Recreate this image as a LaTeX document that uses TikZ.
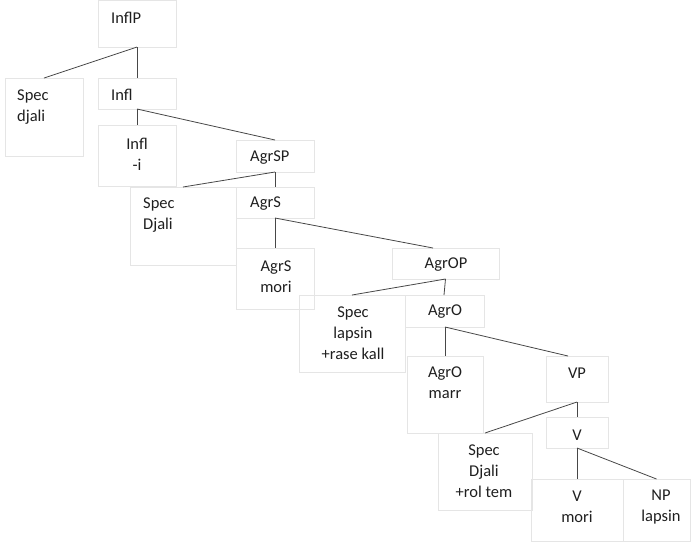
\documentclass[tikz,border=0pt]{standalone}
\usepackage{fontspec}
\setmainfont{Carlito}
\begin{document}
\begin{tikzpicture}[x=1pt,y=-1pt,
  cell/.style={draw=black!10,line width=0.6pt,inner sep=0pt,outer sep=0pt,anchor=north west},
  lab/.style={inner sep=0pt,text=black!88,font=\fontsize{16.5}{21}\selectfont},
  edge/.style={draw=black!72,line width=0.8pt}]
\useasboundingbox (0,0) rectangle (691,542);
% boxes
\node[cell,minimum width=78pt,minimum height=47pt] (inflp) at (98,0) {};
\node[cell,minimum width=78pt,minimum height=78pt] (specd) at (5,78) {};
\node[cell,minimum width=78pt,minimum height=31pt] (infl) at (98,78) {};
\node[cell,minimum width=78pt,minimum height=61pt] (infli) at (98,125) {};
\node[cell,minimum width=78pt,minimum height=32pt] (agrsp) at (236,140) {};
\node[cell,minimum width=106pt,minimum height=78pt] (specD) at (130,187) {};
\node[cell,minimum width=78pt,minimum height=31pt] (agrs) at (236,187) {};
\node[cell,minimum width=78pt,minimum height=61pt] (agrsm) at (236,248) {};
\node[cell,minimum width=107pt,minimum height=31pt] (agrop) at (392,248) {};
\node[cell,minimum width=106pt,minimum height=77pt] (specl) at (299,295) {};
\node[cell,minimum width=79pt,minimum height=32pt] (agro) at (405,295) {};
\node[cell,minimum width=76pt,minimum height=77pt] (agrom) at (407,356) {};
\node[cell,minimum width=62pt,minimum height=46pt] (vp) at (546,356) {};
\node[cell,minimum width=62pt,minimum height=31pt] (v) at (546,417) {};
\node[cell,minimum width=94pt,minimum height=77pt] (specr) at (438,433) {};
\node[cell,minimum width=92pt,minimum height=62pt] (vm) at (531,479) {};
\node[cell,minimum width=67pt,minimum height=62pt] (np) at (623,479) {};
% labels
\node[lab,anchor=west] (t-inflp) at (111,18) {InflP};
\node[lab,anchor=west,align=left] (t-specd) at (17,107) {Spec\\djali};
\node[lab,anchor=west] (t-infl) at (111,95) {Infl};
\node[lab,align=center] (t-infli) at (137,154) {Infl\\-i};
\node[lab,anchor=west] (t-agrsp) at (250,158) {AgrSP};
\node[lab,anchor=west,align=left] (t-specD) at (143,215) {Spec\\Djali};
\node[lab,anchor=west] (t-agrs) at (250,204) {AgrS};
\node[lab,align=center] (t-agrsm) at (276,276.5) {AgrS\\mori};
\node[lab] (t-agrop) at (446,265) {AgrOP};
\node[lab,align=center] (t-specl) at (353,333) {Spec\\lapsin\\+rase kall};
\node[lab] (t-agro) at (445,312) {AgrO};
\node[lab,align=center] (t-agrom) at (445,383) {AgrO\\marr};
\node[lab] (t-vp) at (577,373) {VP};
\node[lab] (t-v) at (577,435) {V};
\node[lab,align=center] (t-specr) at (484,471) {Spec\\Djali\\+rol tem};
\node[lab,align=center] (t-vm) at (577,507) {V\\mori};
\node[lab,align=center] (t-np) at (661,507) {NP\\lapsin};
% connectors
\draw[edge] (inflp.south) -- (specd.north);
\draw[edge] (inflp.south) -- (infl.north);
\draw[edge] (infl.south) -- (infli.north);
\draw[edge] (infl.south) -- (agrsp.north);
\draw[edge] (agrsp.south) -- (specD.north);
\draw[edge] (agrsp.south) -- (agrs.north);
\draw[edge] (agrs.south) -- (agrsm.north);
\draw[edge] (agrs.south) -- ([xshift=-12.5pt]agrop.north);
\draw[edge] (agrop.south) -- (specl.north);
\draw[edge] (agrop.south) -- ([xshift=-0.5pt]agro.north);
\draw[edge] ([xshift=0.5pt]agro.south) -- (agrom.north);
\draw[edge] ([xshift=0.5pt]agro.south) -- ([xshift=-9pt]vp.north);
\draw[edge] (vp.south) -- (specr.north);
\draw[edge] (vp.south) -- (v.north);
\draw[edge] (v.south) -- (vm.north);
\draw[edge] (v.south) -- (np.north);
\end{tikzpicture}
\end{document}
